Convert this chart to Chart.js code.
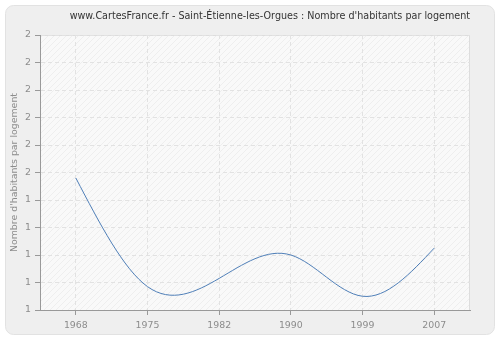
<!DOCTYPE html>
<html>
<head>
<meta charset="utf-8">
<script src="https://cdn.jsdelivr.net/npm/chart.js@4/dist/chart.umd.min.js"></script>
<style>
  html, body { margin: 0; padding: 0; background: #ffffff; }
  #wrap { width: 500px; height: 340px; }
</style>
</head>
<body>
<div id="wrap"><canvas id="chart" width="500" height="340"></canvas></div>
<script>
'use strict';

/* ─── 데이터 ─── */
var years = ['1968', '1975', '1982', '1990', '1999', '2007'];
var habitantsParLogement = [1.48, 1.085, 1.115, 1.2, 1.05, 1.225];
var yMin = 1;
var yMax = 2;
var yStep = 0.1;

/* ─── 배경 패턴 (빗금) ─── */
function makeHatch(ctx) {
  var c = document.createElement('canvas');
  c.width = 6; c.height = 6;
  var g = c.getContext('2d');
  g.fillStyle = '#f9f9f9';
  g.fillRect(0, 0, 6, 6);
  g.strokeStyle = '#eeeeee';
  g.lineWidth = 1;
  g.beginPath();
  g.moveTo(0, 6); g.lineTo(6, 0);
  g.moveTo(-1, 1); g.lineTo(1, -1);
  g.moveTo(5, 7); g.lineTo(7, 5);
  g.stroke();
  return ctx.createPattern(c, 'repeat');
}

var panelPlugin = {
  id: 'panel',
  beforeDraw: function (chart) {
    var ctx = chart.ctx;
    var a = chart.chartArea;
    ctx.save();
    // 바깥 패널
    ctx.beginPath();
    ctx.roundRect(5.5, 5.5, 489, 329, 8);
    ctx.fillStyle = '#efefef';
    ctx.fill();
    ctx.strokeStyle = '#e2e2e2';
    ctx.lineWidth = 1;
    ctx.stroke();
    // 플롯 영역
    ctx.fillStyle = makeHatch(ctx);
    ctx.fillRect(a.left, a.top, a.right - a.left, a.bottom - a.top);
    ctx.strokeStyle = '#dddddd';
    ctx.strokeRect(a.left + 0.5, a.top + 0.5, a.right - a.left - 1, a.bottom - a.top);
    ctx.restore();
  }
};

/* ─── 자연 3차 스플라인 제어점 ─── */
var splinePlugin = {
  id: 'naturalSpline',
  beforeDatasetDraw: function (chart, args) {
    var meta = args.meta;
    var line = meta.dataset;
    var pts = meta.data;
    var n = pts.length;
    if (!line || n < 3) return;
    line.updateControlPoints(chart.chartArea, 'x');

    var x = [], y = [], h = [], i;
    for (i = 0; i < n; i++) { x.push(pts[i].x); y.push(pts[i].y); }
    for (i = 0; i < n - 1; i++) h.push(x[i + 1] - x[i]);

    // 삼중대각 행렬 (토마스 알고리즘)
    var M = new Array(n).fill(0);
    var cp = new Array(n).fill(0), dp = new Array(n).fill(0);
    for (i = 1; i < n - 1; i++) {
      var a = h[i - 1], b = 2 * (h[i - 1] + h[i]), c = h[i];
      var d = 6 * ((y[i + 1] - y[i]) / h[i] - (y[i] - y[i - 1]) / h[i - 1]);
      var den = b - a * cp[i - 1];
      cp[i] = c / den;
      dp[i] = (d - a * dp[i - 1]) / den;
    }
    for (i = n - 2; i >= 1; i--) M[i] = dp[i] - cp[i] * M[i + 1];

    for (i = 0; i < n - 1; i++) {
      var s = (y[i + 1] - y[i]) / h[i];
      var d0 = s - h[i] * (2 * M[i] + M[i + 1]) / 6;
      var d1 = s + h[i] * (M[i] + 2 * M[i + 1]) / 6;
      pts[i].cp2x = x[i] + h[i] / 3;
      pts[i].cp2y = y[i] + d0 * h[i] / 3;
      pts[i + 1].cp1x = x[i + 1] - h[i] / 3;
      pts[i + 1].cp1y = y[i + 1] - d1 * h[i] / 3;
    }
    line._path = undefined;
  }
};

var tickFont = { family: 'DejaVu Sans', size: 9.4 };

new Chart(document.getElementById('chart'), {
  type: 'line',
  data: {
    labels: years,
    datasets: [{
      data: habitantsParLogement,
      borderColor: '#4f7fb8',
      borderWidth: 1,
      pointRadius: 0,
      fill: false,
      tension: 0.4
    }]
  },
  options: {
    responsive: false,
    animation: false,
    layout: { padding: { left: 0, right: 30, top: 0, bottom: 0 } },
    plugins: {
      legend: { display: false },
      tooltip: { enabled: false },
      title: {
        display: true,
        text: "www.CartesFrance.fr - Saint-Étienne-les-Orgues : Nombre d'habitants par logement",
        color: '#333333',
        font: { family: 'DejaVu Sans', size: 9.6, weight: 'normal' },
        align: 'end',
        fullSize: false,
        padding: { top: 10.5, bottom: 13 }
      }
    },
    scales: {
      x: {
        type: 'category',
        offset: true,
        grid: { color: '#e2e2e2', tickColor: '#999999', tickLength: 5, offset: false },
        border: { color: '#999999', dash: [4, 3] },
        ticks: { color: '#8c8c8c', font: tickFont, padding: 5, maxRotation: 0 },
        afterFit: function (s) { s.height = 30; }
      },
      y: {
        min: yMin,
        max: yMax,
        grid: { color: '#e2e2e2', tickColor: '#999999', tickLength: 5 },
        border: { color: '#999999', dash: [4, 3] },
        ticks: {
          stepSize: yStep,
          color: '#8c8c8c',
          font: tickFont,
          padding: 4,
          callback: function (v) { return Math.round(v); }
        },
        title: {
          display: true,
          text: "Nombre d'habitants par logement",
          color: '#8c8c8c',
          font: { family: 'DejaVu Sans', size: 9.4 },
          padding: { top: 9, bottom: 0 }
        },
        afterFit: function (s) { s.width = 40; }
      }
    }
  },
  plugins: [panelPlugin, splinePlugin]
});
</script>
</body>
</html>
